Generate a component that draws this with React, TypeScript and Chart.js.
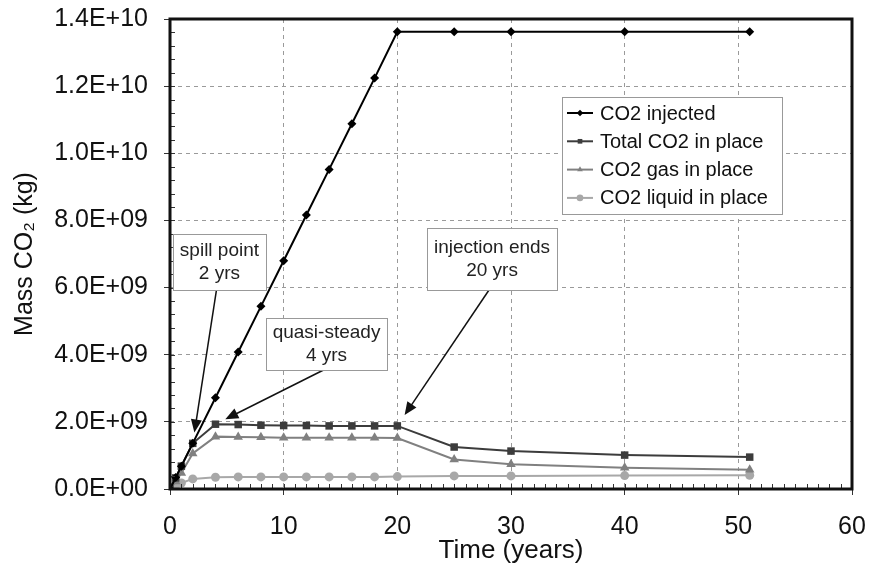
import React, { useEffect, useRef } from 'react';
import { Chart, registerables } from 'chart.js';

Chart.register(...registerables);

// ---- data (time in years, mass in kg) ----
const years = [0, 0.5, 1, 2, 4, 6, 8, 10, 12, 14, 16, 18, 20, 25, 30, 40, 51];
const co2Injected = [0, 0.34e9, 0.68e9, 1.36e9, 2.72e9, 4.08e9, 5.44e9, 6.8e9, 8.16e9, 9.52e9, 10.88e9, 12.24e9, 13.62e9, 13.62e9, 13.62e9, 13.62e9, 13.62e9];
const totalInPlace = [0, 0.33e9, 0.68e9, 1.36e9, 1.93e9, 1.92e9, 1.9e9, 1.89e9, 1.89e9, 1.88e9, 1.88e9, 1.88e9, 1.88e9, 1.25e9, 1.13e9, 1.01e9, 0.95e9];
const gasInPlace = [0, 0.22e9, 0.48e9, 1.06e9, 1.56e9, 1.55e9, 1.54e9, 1.53e9, 1.53e9, 1.53e9, 1.53e9, 1.53e9, 1.52e9, 0.88e9, 0.74e9, 0.63e9, 0.57e9];
const liquidInPlace = [0, 0.1e9, 0.18e9, 0.3e9, 0.35e9, 0.36e9, 0.36e9, 0.36e9, 0.36e9, 0.36e9, 0.36e9, 0.36e9, 0.37e9, 0.39e9, 0.39e9, 0.4e9, 0.41e9];

const seriesNames = ['CO2 injected', 'Total CO2 in place', 'CO2 gas in place', 'CO2 liquid in place'];
const seriesColors = ['#000000', '#3c3c3c', '#808080', '#a8a8a8'];
const seriesMarkers = ['rectRot', 'rect', 'triangle', 'circle'];
const seriesRadius = [4.5, 5.3, 5.5, 4.5];

const xTitle = 'Time (years)';
const yTitle = 'Mass CO\u2082 (kg)';

// annotations: box centre in data units, arrow target = data point
const notes = [
  { lines: ['spill point', '2 yrs'], cx: 4.35, cy: 6.76e9, w: 93, h: 56, tx: 2, ty: 1.36e9, back: 11 },
  { lines: ['quasi-steady', '4 yrs'], cx: 13.77, cy: 4.32e9, w: 121, h: 52, tx: 4, ty: 1.93e9, back: 11 },
  { lines: ['injection ends', '20 yrs'], cx: 28.33, cy: 6.85e9, w: 130, h: 62, tx: 20, ty: 1.88e9, back: 13 },
];

const FONT = '"Liberation Sans", Arial, Helvetica, sans-serif';

function fmtExp(v: number) {
  const [m, e] = Number(v).toExponential(1).split('e');
  const n = parseInt(e, 10);
  return m + 'E' + (n < 0 ? '-' : '+') + String(Math.abs(n)).padStart(2, '0');
}

function marker(ctx: CanvasRenderingContext2D, style: string, x: number, y: number, r: number) {
  ctx.beginPath();
  if (style === 'rectRot') {
    ctx.moveTo(x, y - r); ctx.lineTo(x + r, y); ctx.lineTo(x, y + r); ctx.lineTo(x - r, y); ctx.closePath();
  } else if (style === 'rect') {
    const s = r * Math.SQRT1_2;
    ctx.rect(x - s, y - s, 2 * s, 2 * s);
  } else if (style === 'triangle') {
    ctx.moveTo(x, y - r); ctx.lineTo(x + r * 0.87, y + r * 0.5); ctx.lineTo(x - r * 0.87, y + r * 0.5); ctx.closePath();
  } else {
    ctx.arc(x, y, r, 0, Math.PI * 2);
  }
  ctx.fill();
}

const decorPlugin = {
  id: 'decor',
  afterDraw(chart: any) {
    const { ctx, chartArea: a, scales } = chart;
    const xs = scales.x, ys = scales.y;
    ctx.save();
    // minor inner ticks
    ctx.strokeStyle = '#333';
    ctx.lineWidth = 1;
    ctx.beginPath();
    for (let i = 0; i <= 60; i++) {
      const px = Math.round(xs.getPixelForValue(i)) + 0.5;
      ctx.moveTo(px, a.bottom);
      ctx.lineTo(px, a.bottom - 5);
    }
    for (let i = 0; i <= 35; i++) {
      const py = Math.round(ys.getPixelForValue(i * 0.4e9)) + 0.5;
      ctx.moveTo(a.left, py);
      ctx.lineTo(a.left + 5, py);
    }
    ctx.stroke();
    // frame
    ctx.lineWidth = 3;
    ctx.strokeStyle = '#111';
    ctx.strokeRect(a.left, a.top, a.right - a.left, a.bottom - a.top);

    // legend
    const lx = a.right - 290, ly = a.top + 78, lw = 220, lh = 117;
    ctx.fillStyle = '#fff';
    ctx.fillRect(lx, ly, lw, lh);
    ctx.lineWidth = 1;
    ctx.strokeStyle = '#999';
    ctx.strokeRect(lx + 0.5, ly + 0.5, lw, lh);
    ctx.font = '20px ' + FONT;
    ctx.textBaseline = 'middle';
    ctx.textAlign = 'left';
    seriesNames.forEach((name, i) => {
      const ry = ly + 16 + i * 28.3;
      ctx.strokeStyle = seriesColors[i];
      ctx.fillStyle = seriesColors[i];
      ctx.lineWidth = 2;
      ctx.beginPath();
      ctx.moveTo(lx + 5, ry);
      ctx.lineTo(lx + 31, ry);
      ctx.stroke();
      marker(ctx, seriesMarkers[i], lx + 18, ry, 3.3);
      ctx.fillStyle = '#111';
      ctx.fillText(name, lx + 38, ry + 1);
    });

    // annotations
    notes.forEach((n) => {
      const cx = xs.getPixelForValue(n.cx);
      const cy = ys.getPixelForValue(n.cy);
      const bx = cx - n.w / 2, by = cy - n.h / 2;
      const tx = xs.getPixelForValue(n.tx);
      const ty = ys.getPixelForValue(n.ty);
      const sx = cx - 3, sy = by + n.h;
      const dx = tx - sx, dy = ty - sy;
      const len = Math.hypot(dx, dy);
      const ux = dx / len, uy = dy / len;
      const ex = tx - ux * n.back, ey = ty - uy * n.back;
      // arrow line
      ctx.strokeStyle = '#111';
      ctx.lineWidth = 1.5;
      ctx.beginPath();
      ctx.moveTo(sx, sy);
      ctx.lineTo(ex - ux * 10, ey - uy * 10);
      ctx.stroke();
      // arrow head
      const hl = 13, hw = 5.5;
      ctx.fillStyle = '#111';
      ctx.beginPath();
      ctx.moveTo(ex, ey);
      ctx.lineTo(ex - ux * hl - uy * hw, ey - uy * hl + ux * hw);
      ctx.lineTo(ex - ux * hl + uy * hw, ey - uy * hl - ux * hw);
      ctx.closePath();
      ctx.fill();
      // box
      ctx.fillStyle = '#fff';
      ctx.fillRect(bx, by, n.w, n.h);
      ctx.strokeStyle = '#999';
      ctx.lineWidth = 1;
      ctx.strokeRect(Math.round(bx) + 0.5, Math.round(by) + 0.5, n.w, n.h);
      ctx.fillStyle = '#222';
      ctx.font = '19px ' + FONT;
      ctx.textAlign = 'center';
      ctx.textBaseline = 'middle';
      ctx.fillText(n.lines[0], cx, cy - 11);
      ctx.fillText(n.lines[1], cx, cy + 12);
    });
    ctx.restore();
  },
};

export default function App() {
  const ref = useRef<HTMLCanvasElement | null>(null);
  useEffect(() => {
    if (!ref.current) return;
    const allSeries = [co2Injected, totalInPlace, gasInPlace, liquidInPlace];
    const chart = new Chart(ref.current, {
      type: 'line',
      data: {
        datasets: allSeries.map((vals, i) => ({
          label: seriesNames[i],
          data: years.map((t, j) => ({ x: t, y: vals[j] })),
          borderColor: seriesColors[i],
          backgroundColor: seriesColors[i],
          pointBackgroundColor: seriesColors[i],
          pointBorderColor: seriesColors[i],
          pointStyle: seriesMarkers[i] as any,
          pointRadius: seriesRadius[i],
          pointBorderWidth: 0,
          borderWidth: 2,
          tension: 0,
        })),
      },
      options: {
        animation: false,
        responsive: false,
        devicePixelRatio: 1,
        layout: { padding: { top: 19, right: 17, left: 0, bottom: 0 } },
        plugins: { legend: { display: false }, tooltip: { enabled: false } },
        scales: {
          x: {
            type: 'linear',
            min: 0,
            max: 60,
            afterFit: (s: any) => { s.height = 78; s.paddingLeft = 0; s.paddingRight = 0; },
            ticks: { stepSize: 10, color: '#111', font: { family: FONT, size: 25 }, padding: 17, maxRotation: 0 },
            grid: { color: '#9a9a9a', lineWidth: 1, drawTicks: true, tickLength: 6, tickColor: '#333', tickBorderDash: [] },
            border: { display: false, dash: [4, 4] },
            title: { display: true, text: xTitle, color: '#111', font: { family: FONT, size: 26 }, padding: { top: 0, bottom: 1 } },
          },
          y: {
            type: 'linear',
            min: 0,
            max: 1.4e10,
            afterFit: (s: any) => { s.width = 170; s.paddingTop = 0; s.paddingBottom = 0; },
            ticks: { stepSize: 2e9, color: '#111', font: { family: FONT, size: 25 }, padding: 16, callback: (v: any) => fmtExp(Number(v)) },
            grid: { color: '#9a9a9a', lineWidth: 1, drawTicks: true, tickLength: 6, tickColor: '#333', tickBorderDash: [] },
            border: { display: false, dash: [4, 4] },
            title: { display: true, text: yTitle, color: '#111', font: { family: FONT, size: 25 }, padding: { top: 10, bottom: 0 } },
          },
        },
      },
      plugins: [decorPlugin],
    });
    return () => chart.destroy();
  }, []);
  return (
    <div style={{ position: 'fixed', left: 0, top: 0, width: 869, height: 567, background: '#fff' }}>
      <canvas ref={ref} width={869} height={567} style={{ width: 869, height: 567, display: 'block' }} />
    </div>
  );
}
